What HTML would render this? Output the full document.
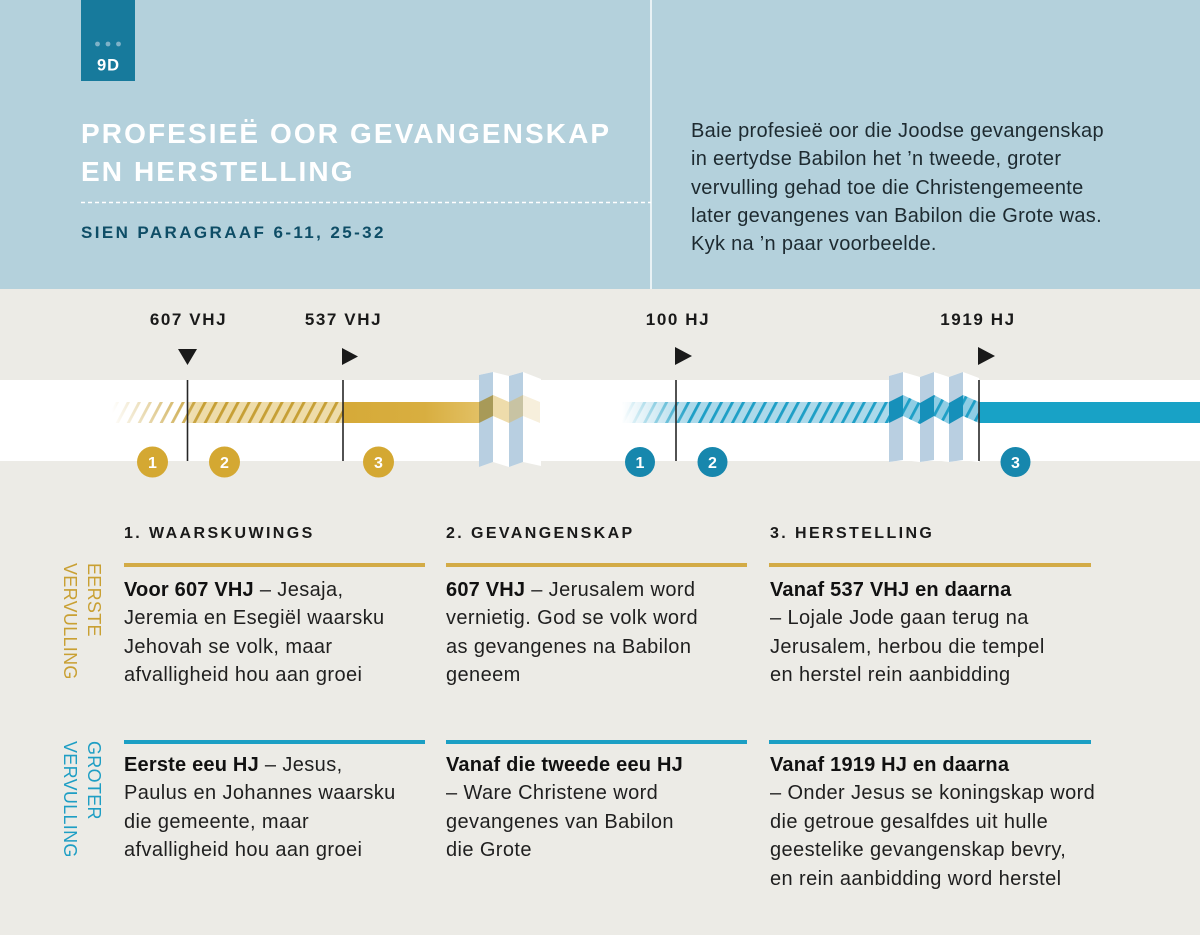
<!DOCTYPE html>
<html>
<head>
<meta charset="utf-8">
<style>
  html,body{margin:0;padding:0;}
  body{width:1200px;height:935px;position:relative;overflow:hidden;font-family:"Liberation Sans",sans-serif;background:#ecebe6;}
  svg.bg{position:absolute;left:0;top:0;}
  .abs{position:absolute;white-space:nowrap;}
  .title{left:81px;top:115px;color:#fff;font-weight:bold;font-size:28px;line-height:38px;letter-spacing:2.1px;}
  .sien{left:81px;top:224px;color:#0e4d66;font-weight:bold;font-size:17px;line-height:17px;letter-spacing:2.4px;}
  .intro{left:691px;top:117px;color:#1d2a30;font-size:20px;line-height:28.3px;letter-spacing:0.3px;}
  .hdr{top:525.5px;font-weight:bold;font-size:16px;line-height:16px;letter-spacing:2.4px;color:#1a1a1a;}
  .txt{font-size:20px;line-height:28.4px;letter-spacing:0.4px;color:#1f1f1f;}
  .txt b{color:#111;letter-spacing:0.2px;}
  .vert{font-size:18px;line-height:18px;height:18px;transform:rotate(90deg);transform-origin:0 0;letter-spacing:0.3px;}
  .gold{color:#c9a033;}
  .blue{color:#1e9ec4;}
</style>
</head>
<body>
<svg class="bg" width="1200" height="935" viewBox="0 0 1200 935" xmlns="http://www.w3.org/2000/svg">
  <defs>
    <pattern id="hg" patternUnits="userSpaceOnUse" width="9.7" height="40" patternTransform="rotate(28)">
      <rect x="0" y="0" width="2.8" height="40" fill="#c69f35"/>
    </pattern>
    <pattern id="hb" patternUnits="userSpaceOnUse" width="9.7" height="40" patternTransform="rotate(28)">
      <rect x="0" y="0" width="2.8" height="40" fill="#1e9fc6"/>
    </pattern>
    <linearGradient id="fadeG" x1="112" x2="200" y1="0" y2="0" gradientUnits="userSpaceOnUse">
      <stop offset="0" stop-color="#fff" stop-opacity="0"/>
      <stop offset="1" stop-color="#fff" stop-opacity="1"/>
    </linearGradient>
    <linearGradient id="fadeB" x1="622" x2="690" y1="0" y2="0" gradientUnits="userSpaceOnUse">
      <stop offset="0" stop-color="#fff" stop-opacity="0"/>
      <stop offset="1" stop-color="#fff" stop-opacity="1"/>
    </linearGradient>
    <linearGradient id="goldSolid" x1="343" x2="479" y1="0" y2="0" gradientUnits="userSpaceOnUse">
      <stop offset="0" stop-color="#d6aa38"/>
      <stop offset="0.6" stop-color="#d8ae40"/>
      <stop offset="1" stop-color="#e2c064"/>
    </linearGradient>
    <mask id="mG"><rect x="0" y="380" width="600" height="90" fill="url(#fadeG)"/></mask>
    <mask id="mB"><rect x="600" y="380" width="600" height="90" fill="url(#fadeB)"/></mask>
  </defs>

  <!-- backgrounds -->
  <rect x="0" y="0" width="1200" height="289" fill="#b4d1dc"/>
  <rect x="0" y="289" width="1200" height="646" fill="#ecebe6"/>
  <rect x="650" y="0" width="2" height="289" fill="#e9f2f5"/>
  <line x1="81" y1="202.5" x2="651" y2="202.5" stroke="#ffffff" stroke-width="1.5" stroke-dasharray="4 3"/>

  <!-- badge -->
  <rect x="81" y="0" width="54" height="81" fill="#177a9c"/>
  <circle cx="97.5" cy="44" r="2.4" fill="#7fb2c8"/>
  <circle cx="108" cy="44" r="2.4" fill="#7fb2c8"/>
  <circle cx="118.5" cy="44" r="2.4" fill="#7fb2c8"/>
  <text x="108.5" y="70.5" text-anchor="middle" font-family="Liberation Sans, sans-serif" font-weight="bold" font-size="16.5" letter-spacing="1" fill="#ffffff">9D</text>

  <!-- white band -->
  <rect x="0" y="380" width="1200" height="81" fill="#ffffff"/>

  <!-- gold bar -->
  <g mask="url(#mG)">
    <rect x="187" y="402" width="156" height="21" fill="#eedcaa"/>
    <rect x="112" y="402" width="231" height="21" fill="url(#hg)"/>
  </g>
  <rect x="343" y="402" width="136" height="21" fill="url(#goldSolid)"/>

  <!-- gold fold -->
  <polygon points="479,375 493,372 509,376 523,372 541,379 541,466 523,462 509,467 493,462 479,467" fill="#ffffff"/>
  <polygon points="479,375 493,372 493,462 479,467" fill="#b8cfe1"/>
  <polygon points="509,376 523,372 523,462 509,467" fill="#b8cfe1"/>
  <polygon points="479,402 493,395 493,416 479,423" fill="#a89a58"/>
  <polygon points="493,395 509,402 509,423 493,416" fill="#eedcab"/>
  <polygon points="509,402 523,395 523,416 509,423" fill="#c8c3a3"/>
  <polygon points="523,395 540,402 540,423 523,416" fill="#f7efdc"/>

  <!-- blue bar -->
  <g mask="url(#mB)">
    <rect x="622" y="402" width="267" height="21" fill="#acd9ea"/>
    <rect x="622" y="402" width="267" height="21" fill="url(#hb)"/>
  </g>

  <!-- blue fold -->
  <polygon points="889,376 903,372 920,377 934,372 949,377 963,372 979,378 979,462 963,460 949,462 934,460 920,462 903,460 889,462" fill="#ffffff"/>
  <polygon points="889,376 903,372 903,460 889,462" fill="#b9cfe1"/>
  <polygon points="920,377 934,372 934,460 920,462" fill="#b9cfe1"/>
  <polygon points="949,377 963,372 963,460 949,462" fill="#b9cfe1"/>
  <polygon points="889,402 903,395 903,416 889,423" fill="#1690ba"/>
  <polygon points="903,395 920,403 920,424 903,416" fill="#8fcde4"/>
  <polygon points="903,395 920,403 920,424 903,416" fill="url(#hb)"/>
  <polygon points="920,403 934,395 934,416 920,424" fill="#1690ba"/>
  <polygon points="934,395 949,403 949,424 934,416" fill="#8fcde4"/>
  <polygon points="934,395 949,403 949,424 934,416" fill="url(#hb)"/>
  <polygon points="949,403 963,395 963,416 949,424" fill="#1690ba"/>
  <polygon points="963,395 979,402 979,423 963,416" fill="#8fcde4"/>
  <polygon points="963,395 979,402 979,423 963,416" fill="url(#hb)"/>
  <rect x="979" y="402" width="221" height="21" fill="#18a2c6"/>

  <!-- vertical markers -->
  <g stroke="#262626" stroke-width="1.6">
    <line x1="187.5" y1="380" x2="187.5" y2="461"/>
    <line x1="343" y1="380" x2="343" y2="461"/>
    <line x1="676" y1="380" x2="676" y2="461"/>
    <line x1="979" y1="380" x2="979" y2="461"/>
  </g>
  <g fill="#1a1a1a">
    <polygon points="178,349 197,349 187.5,365"/>
    <polygon points="342,348 342,365 358,356.5"/>
    <polygon points="675,347 675,365 692,356"/>
    <polygon points="978,347 978,365 995,356"/>
  </g>

  <!-- year labels -->
  <g font-family="Liberation Sans, sans-serif" font-weight="bold" font-size="17" letter-spacing="1.6" fill="#1a1a1a" text-anchor="middle">
    <text x="188.5" y="325">607 VHJ</text>
    <text x="343.5" y="325">537 VHJ</text>
    <text x="678" y="325">100 HJ</text>
    <text x="978" y="325">1919 HJ</text>
  </g>

  <!-- circles -->
  <g font-family="Liberation Sans, sans-serif" font-weight="bold" font-size="16" fill="#ffffff" text-anchor="middle">
    <circle cx="152.5" cy="462" r="15.5" fill="#d4a832"/>
    <circle cx="224.5" cy="462" r="15.5" fill="#d4a832"/>
    <circle cx="378.5" cy="462" r="15.5" fill="#d4a832"/>
    <text x="152.5" y="468">1</text>
    <text x="224.5" y="468">2</text>
    <text x="378.5" y="468">3</text>
    <circle cx="640" cy="462" r="15" fill="#1787ad"/>
    <circle cx="712.5" cy="462" r="15" fill="#1787ad"/>
    <circle cx="1015.5" cy="462" r="15" fill="#1787ad"/>
    <text x="640" y="468">1</text>
    <text x="712.5" y="468">2</text>
    <text x="1015.5" y="468">3</text>
  </g>

  <!-- column rules -->
  <g>
    <rect x="124" y="563" width="301" height="4" fill="#d3ab46"/>
    <rect x="446" y="563" width="301" height="4" fill="#d3ab46"/>
    <rect x="769" y="563" width="322" height="4" fill="#d3ab46"/>
    <rect x="124" y="740" width="301" height="4" fill="#1b9fc4"/>
    <rect x="446" y="740" width="301" height="4" fill="#1b9fc4"/>
    <rect x="769" y="740" width="322" height="4" fill="#1b9fc4"/>
  </g>
</svg>

<div class="abs title">PROFESIEË OOR GEVANGENSKAP<br>EN HERSTELLING</div>
<div class="abs sien">SIEN PARAGRAAF 6-11, 25-32</div>
<div class="abs intro">Baie profesieë oor die Joodse gevangenskap<br>in eertydse Babilon het ’n tweede, groter<br>vervulling gehad toe die Christengemeente<br>later gevangenes van Babilon die Grote was.<br>Kyk na ’n paar voorbeelde.</div>

<div class="abs hdr" style="left:124px;">1. WAARSKUWINGS</div>
<div class="abs hdr" style="left:446px;">2. GEVANGENSKAP</div>
<div class="abs hdr" style="left:770px;">3. HERSTELLING</div>

<div class="abs vert gold" style="left:103px;top:563px;">EERSTE</div>
<div class="abs vert gold" style="left:79px;top:563px;">VERVULLING</div>
<div class="abs vert blue" style="left:103px;top:741px;">GROTER</div>
<div class="abs vert blue" style="left:79px;top:741px;">VERVULLING</div>

<div class="abs txt" style="left:124px;top:576px;"><b>Voor 607 VHJ</b> – Jesaja,<br>Jeremia en Esegiël waarsku<br>Jehovah se volk, maar<br>afvalligheid hou aan groei</div>
<div class="abs txt" style="left:446px;top:576px;"><b>607 VHJ</b> – Jerusalem word<br>vernietig. God se volk word<br>as gevangenes na Babilon<br>geneem</div>
<div class="abs txt" style="left:770px;top:576px;"><b>Vanaf 537 VHJ en daarna</b><br>– Lojale Jode gaan terug na<br>Jerusalem, herbou die tempel<br>en herstel rein aanbidding</div>

<div class="abs txt" style="left:124px;top:751px;"><b>Eerste eeu HJ</b> – Jesus,<br>Paulus en Johannes waarsku<br>die gemeente, maar<br>afvalligheid hou aan groei</div>
<div class="abs txt" style="left:446px;top:751px;"><b>Vanaf die tweede eeu HJ</b><br>– Ware Christene word<br>gevangenes van Babilon<br>die Grote</div>
<div class="abs txt" style="left:770px;top:751px;"><b>Vanaf 1919 HJ en daarna</b><br>– Onder Jesus se koningskap word<br>die getroue gesalfdes uit hulle<br>geestelike gevangenskap bevry,<br>en rein aanbidding word herstel</div>
</body>
</html>
